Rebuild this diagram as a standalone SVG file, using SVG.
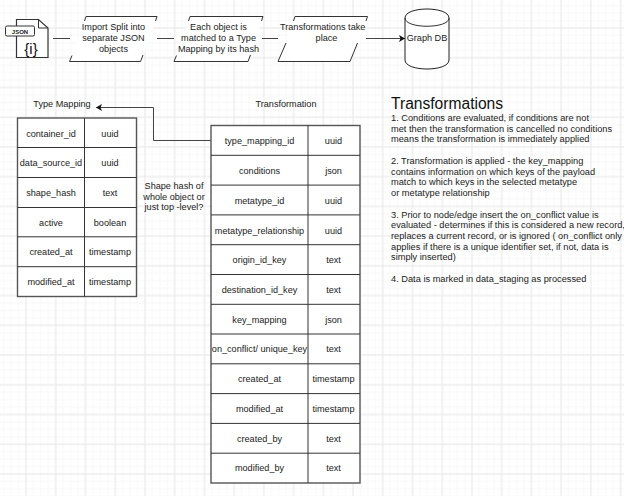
<svg xmlns="http://www.w3.org/2000/svg" width="624" height="496" viewBox="0 0 624 496">
<style>
text{font-family:"Liberation Sans",Arial,sans-serif;font-size:9.15px;fill:#222}
.c{text-anchor:middle}
.s{fill:#fff;stroke:#222;stroke-width:1}
.w{fill:#fff;stroke:none}
.e{fill:none;stroke:#333;stroke-width:1}
.tb{fill:#fff;stroke:#555;stroke-width:1.4}
.ln{fill:none;stroke:#444;stroke-width:1}
.tl{fill:none;stroke:#333;stroke-width:1}
.n{font-size:9.25px}
</style>
<defs>
<pattern id="g" width="7.433" height="7.433" patternUnits="userSpaceOnUse" patternTransform="translate(497.98 24.28)"><path d="M3.716 0V7.433M0 3.716H7.433" fill="none" stroke="#f7f7f7" stroke-width="1"/></pattern>
<pattern id="G" width="29.73" height="29.73" patternUnits="userSpaceOnUse" patternTransform="translate(486.835 13.135)"><path d="M14.865 0V29.730M0 14.865H29.730" fill="none" stroke="#e9e9e9" stroke-width="1"/></pattern>
<marker id="a" markerWidth="8" markerHeight="8" refX="6" refY="3.5" orient="auto" markerUnits="userSpaceOnUse"><path d="M0 0L6 3.5L0 7L1.500 3.500Z" fill="#111"/></marker>
</defs>
<rect width="624" height="496" fill="#fff"/>
<rect width="624" height="496" fill="url(#g)"/>
<rect width="624" height="496" fill="url(#G)"/>
<g id="connectors">
<path class="ln" d="M53 38.500H70"/>
<path class="ln" d="M157 38.500H174"/>
<path class="ln" d="M262 38.500H278"/>
<path class="ln" d="M366 38.500H405" marker-end="url(#a)"/>
<path class="ln" d="M211 140.500H153.500V107.500H96" marker-end="url(#a)"/>
</g>
<g id="json-icon">
<path d="M16.500 57.500V19.500H38.500L48 28V57.500Z" fill="#fff" stroke="#333" stroke-width="1.200"/>
<path d="M38.500 19.500V28H48" fill="none" stroke="#333"/>
<rect x="5.500" y="26" width="29" height="10" rx="1.500" fill="#fff" stroke="#333"/>
<text x="20" y="33.500" class="c" style="font-size:6px;font-weight:bold">JSON</text>
<text x="31" y="54" class="c" style="font-size:15px;fill:#111">{i}</text>
</g>
<g id="import-split">
<path class="w" d="M70 61.500L86 17H157L141 61.500Z"/>
<path class="e" d="M84.500 21L86 16.500H157L155.500 21M72 55.500L69.500 61.500H140.500L143 55"/>
<text x="113.500" y="30" class="c">Import Split into</text><text x="113.500" y="41" class="c">separate JSON</text><text x="113.500" y="51.500" class="c">objects</text>
</g>
<g id="match-type">
<path class="w" d="M174 61.500L190 17H263L248 61.500Z"/>
<path class="e" d="M188.500 21L190 16.500H263L261.500 21M176.500 55.500L174 61.500H248L250.500 55"/>
<text x="218.500" y="30" class="c">Each object is</text><text x="218.500" y="41" class="c">matched to a Type</text><text x="218.500" y="51.500" class="c">Mapping by its hash</text>
</g>
<g id="transformations-take-place">
<path class="w" d="M278 61.500L295 17H367.500L350 61.500Z"/>
<path class="e" d="M293.500 21L295 16.500H367.500L366 21M286 43L278 61.500H350L357.500 43"/>
<text x="322.700" y="30" class="c">Transformations take</text><text x="326.500" y="41" class="c">place</text>
</g>
<g id="graph-db">
<path class="s" d="M405 18C405 6 449 6 449 18V60C449 72 405 72 405 60Z"/>
<path class="e" d="M405 18C405 29 449 29 449 18"/>
<text x="427" y="40.500" class="c">Graph DB</text>
</g>
<g id="type-mapping-title"><text x="62" y="106.500" class="c">Type Mapping</text></g>
<g id="type-mapping">
<rect class="tb" x="17.500" y="118" width="119" height="178.500"/>
<path class="tl" d="M84.500 118V296.500M17.500 147.500H136.500M17.500 177.500H136.500M17.500 207.500H136.500M17.500 236.800H136.500M17.500 266.700H136.500"/>
<text x="51" y="136.500" class="c">container_id</text><text x="110" y="136.500" class="c">uuid</text>
<text x="51" y="166" class="c">data_source_id</text><text x="110" y="166" class="c">uuid</text>
<text x="51" y="196" class="c">shape_hash</text><text x="110" y="196" class="c">text</text>
<text x="51" y="225.500" class="c">active</text><text x="110" y="225.500" class="c">boolean</text>
<text x="51" y="255" class="c">created_at</text><text x="110" y="255" class="c">timestamp</text>
<text x="51" y="285" class="c">modified_at</text><text x="110" y="285" class="c">timestamp</text>
</g>
<g id="shape-hash-note">
<text x="174" y="188.500" class="c">Shape hash of</text><text x="174" y="199.500" class="c">whole object or</text><text x="174" y="210" class="c">just top -level?</text>
</g>
<g id="transformation-title"><text x="286" y="106.500" class="c">Transformation</text></g>
<g id="transformation">
<rect class="tb" x="211" y="125.500" width="149" height="357.500"/>
<path class="tl" d="M308 125.500V483M211 155.300H360M211 185.100H360M211 214.900H360M211 244.700H360M211 274.500H360M211 304.300H360M211 334H360M211 363.800H360M211 393.600H360M211 423.400H360M211 453.200H360"/>
<text x="259.500" y="144" class="c">type_mapping_id</text><text x="333.500" y="144" class="c">uuid</text>
<text x="259.500" y="174" class="c">conditions</text><text x="333.500" y="174" class="c">json</text>
<text x="259.500" y="203.500" class="c">metatype_id</text><text x="333.500" y="203.500" class="c">uuid</text>
<text x="259.500" y="233.500" class="c">metatype_relationship</text><text x="333.500" y="233.500" class="c">uuid</text>
<text x="259.500" y="263" class="c">origin_id_key</text><text x="333.500" y="263" class="c">text</text>
<text x="259.500" y="293" class="c">destination_id_key</text><text x="333.500" y="293" class="c">text</text>
<text x="259.500" y="322.500" class="c">key_mapping</text><text x="333.500" y="322.500" class="c">json</text>
<text x="259.500" y="352" class="c">on_conflict/ unique_key</text><text x="333.500" y="352" class="c">text</text>
<text x="259.500" y="382" class="c">created_at</text><text x="333.500" y="382" class="c">timestamp</text>
<text x="259.500" y="412" class="c">modified_at</text><text x="333.500" y="412" class="c">timestamp</text>
<text x="259.500" y="441.500" class="c">created_by</text><text x="333.500" y="441.500" class="c">text</text>
<text x="259.500" y="471" class="c">modified_by</text><text x="333.500" y="471" class="c">text</text>
</g>
<g id="notes">
<text x="391" y="109" style="font-size:15.600px;fill:#111">Transformations</text>
<text class="n" x="391" y="120.500">1. Conditions are evaluated, if conditions are not</text>
<text class="n" x="391" y="131.500">met then the transformation is cancelled no conditions</text>
<text class="n" x="391" y="142">means the transformation is immediately applied</text>
<text class="n" x="391" y="164">2. Transformation is applied - the key_mapping</text>
<text class="n" x="391" y="174.500">contains information on which keys of the payload</text>
<text class="n" x="391" y="185">match to which keys in the selected metatype</text>
<text class="n" x="391" y="196">or metatype relationship</text>
<text class="n" x="391" y="217.500">3. Prior to node/edge insert the on_conflict value is</text>
<text class="n" x="391" y="228">evaluated - determines if this is considered a new record,</text>
<text class="n" x="391" y="239">replaces a current record, or is ignored ( on_conflict only</text>
<text class="n" x="391" y="249.500">applies if there is a unique identifier set, if not, data is</text>
<text class="n" x="391" y="260">simply inserted)</text>
<text class="n" x="391" y="281.500">4. Data is marked in data_staging as processed</text>
</g>
</svg>
